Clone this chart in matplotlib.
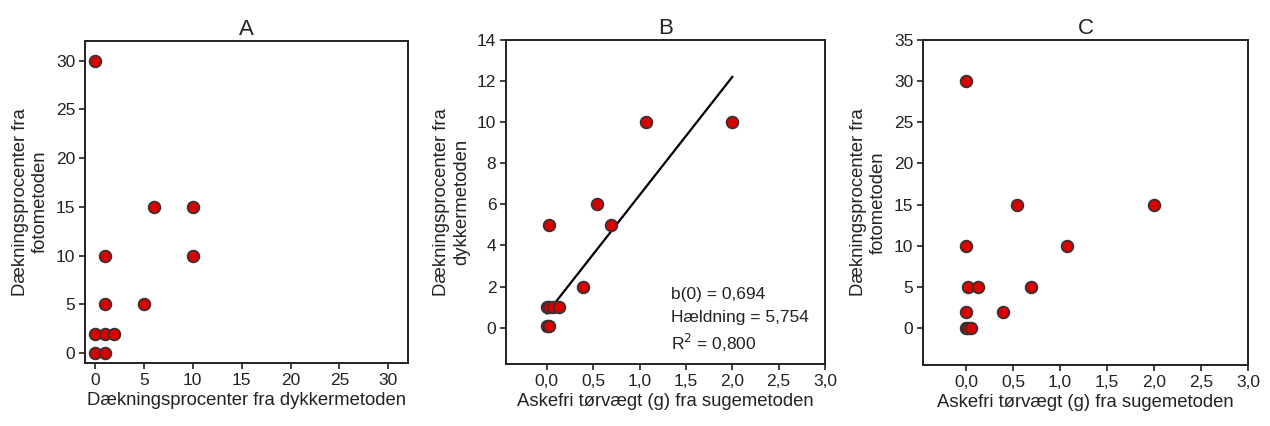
import numpy as np
import matplotlib
matplotlib.use("Agg")
import matplotlib.pyplot as plt
from matplotlib.ticker import FuncFormatter

plt.rcParams['font.family'] = ['Liberation Sans', 'DejaVu Sans']
plt.rcParams['text.color'] = '#222222'
plt.rcParams['axes.labelcolor'] = '#222222'
plt.rcParams['xtick.labelcolor'] = '#222222'
plt.rcParams['ytick.labelcolor'] = '#222222'

# panel A: dykkermetoden vs fotometoden
a_dykker = [0, 6, 10, 1, 10, 1, 5, 0, 1, 2, 0, 1]
a_foto = [30, 15, 15, 10, 10, 5, 5, 2, 2, 2, 0, 0]

# panel B: askefri toervaegt vs dykkermetoden
b_aske = [2.0, 1.07, 0.54, 0.69, 0.02, 0.39, 0.0, 0.02, 0.07, 0.13, 0.0, 0.02]
b_dykker = [10, 10, 6, 5, 5, 2, 1, 1, 1, 1, 0.1, 0.1]
b_intercept = 0.694
b_slope = 5.754
b_r2 = 0.800

# panel C: askefri toervaegt vs fotometoden
c_aske = [0.0, 0.54, 2.0, 0.0, 1.07, 0.02, 0.13, 0.69, 0.0, 0.39, 0.0, 0.02, 0.05]
c_foto = [30, 15, 15, 10, 10, 5, 5, 5, 2, 2, 0, 0, 0]

face = "#d90000"
edge = "#333333"
comma = FuncFormatter(lambda v, p: f"{v:.1f}".replace(".", ","))
dk = lambda v: f"{v:.3f}".replace(".", ",")

fig = plt.figure(figsize=(12.7, 4.26), dpi=100)
axA = fig.add_axes([85/1270, 63/426, 323/1270, 322/426])
axB = fig.add_axes([506/1270, 62/426, 319/1270, 324/426])
axC = fig.add_axes([923/1270, 61/426, 325/1270, 325/426])

for ax in (axA, axB, axC):
    for s in ax.spines.values():
        s.set_linewidth(1.4)
        s.set_color("#222222")
    ax.tick_params(direction="out", length=4, width=1.2, labelsize=12.5, pad=3,
                   color="#222222")

def dots(ax, x, y):
    ax.plot(x, y, "o", ms=8.5, mfc=face, mec=edge, mew=1.2, zorder=3)

# A
dots(axA, a_dykker, a_foto)
axA.set_xlim(-1, 32)
axA.set_ylim(-1, 32)
axA.set_xticks(range(0, 31, 5))
axA.set_yticks(range(0, 31, 5))
axA.set_title("A", fontsize=16, pad=4)
axA.set_xlabel("Dækningsprocenter fra dykkermetoden", fontsize=13.3, labelpad=3)
axA.set_ylabel("Dækningsprocenter fra\nfotometoden", fontsize=13.3, labelpad=5)

# B
xfit = np.array([0.0, 2.0])
axB.plot(xfit, b_intercept + b_slope * xfit, color="black", lw=1.6, zorder=2)
dots(axB, b_aske, b_dykker)
axB.set_xlim(-0.44, 3.0)
axB.set_ylim(-1.77, 14)
axB.set_xticks(np.arange(0, 3.01, 0.5))
axB.set_yticks(range(0, 15, 2))
axB.xaxis.set_major_formatter(comma)
axB.set_title("B", fontsize=16, pad=4)
axB.set_xlabel("Askefri tørvægt (g) fra sugemetoden", fontsize=13.3, labelpad=3)
axB.set_ylabel("Dækningsprocenter fra\ndykkermetoden", fontsize=13.3, labelpad=5)
stat_lines = [f"b(0) = {dk(b_intercept)}", f"Hældning = {dk(b_slope)}",
              f"R$^2$ = {dk(b_r2)}"]
for line, yy in zip(stat_lines, [0.216, 0.142, 0.065]):
    axB.text(0.517, yy, line, transform=axB.transAxes, fontsize=12.5,
             va="center", ha="left")

# C
dots(axC, c_aske, c_foto)
axC.set_xlim(-0.46, 3.0)
axC.set_ylim(-4.5, 35)
axC.set_xticks(np.arange(0, 3.01, 0.5))
axC.set_yticks(range(0, 36, 5))
axC.xaxis.set_major_formatter(comma)
axC.set_title("C", fontsize=16, pad=4)
axC.set_xlabel("Askefri tørvægt (g) fra sugemetoden", fontsize=13.3, labelpad=3)
axC.set_ylabel("Dækningsprocenter fra\nfotometoden", fontsize=13.3, labelpad=5)

fig.savefig("out.png", dpi=100)
